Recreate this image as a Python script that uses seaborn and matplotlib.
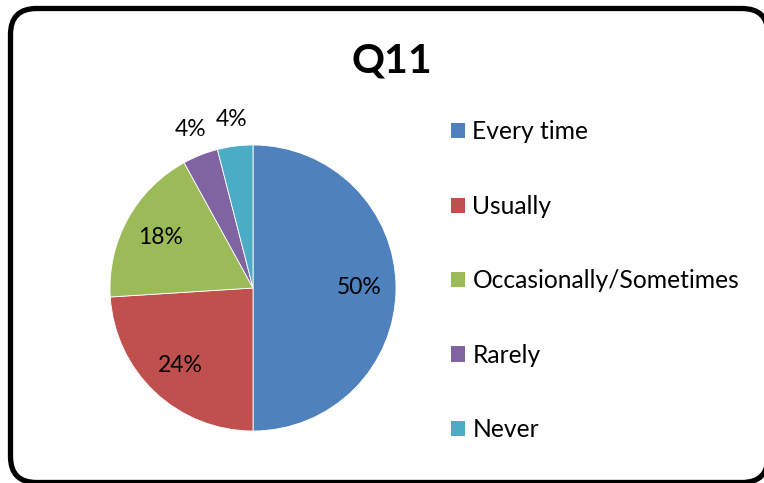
import matplotlib
matplotlib.use("Agg")
import matplotlib.pyplot as plt
import seaborn as sns
from matplotlib.patches import FancyBboxPatch, Patch
import numpy as np

categories = ["Every time", "Usually", "Occasionally/Sometimes", "Rarely", "Never"]
values = [50, 24, 18, 4, 4]
colors = ["#4F81BD", "#C0504D", "#9BBB59", "#8064A2", "#4BACC6"]
title = "Q11"

sns.set_theme(style="white")
plt.rcParams['font.family'] = ['Lato', 'DejaVu Sans']
plt.rcParams['text.color'] = 'black'

W, H = 764, 483
fig = plt.figure(figsize=(W / 100, H / 100), dpi=100)
fig.patch.set_facecolor("white")

# overlay axes in pixel units (origin top-left) for the rounded chart border
bg = fig.add_axes([0, 0, 1, 1], zorder=-1)
bg.set_xlim(0, W)
bg.set_ylim(H, 0)
bg.axis("off")
x0, y_top, x1, y_bot = 10.5, 8.5, 768, 482.5
border = FancyBboxPatch((x0, y_top), x1 - x0, y_bot - y_top,
                        boxstyle="round,pad=0,rounding_size=26",
                        facecolor="white", edgecolor="black", linewidth=3.8, clip_on=False)
bg.add_patch(border)

cx, cy, r = 253, 288, 143
ax = fig.add_axes([(cx - r) / W, (H - cy - r) / H, 2 * r / W, 2 * r / H])
palette = sns.color_palette(colors)
wedges, texts, autotexts = ax.pie(values, colors=palette, startangle=90, counterclock=False,
                                  autopct=lambda p: f"{p:.0f}%", pctdistance=0.74,
                                  radius=1, wedgeprops=dict(edgecolor="white", linewidth=0.6),
                                  textprops=dict(fontsize=16.5, color="black"))
total = sum(values)
for w, t, v in zip(wedges, autotexts, values):
    if v / total < 0.1:
        ang = np.deg2rad((w.theta1 + w.theta2) / 2)
        t.set_position((1.19 * np.cos(ang), 1.19 * np.sin(ang)))
    t.set_clip_on(False)
ax.set_xlim(-1, 1)
ax.set_ylim(-1, 1)
ax.set_aspect("auto")
ax.axis("off")

fig.text(392 / W, 1 - 61 / H, title, ha="center", va="center", fontsize=29.5,
         fontweight="bold", color="black")

handles = [Patch(facecolor=c, edgecolor="none") for c in palette]
leg = fig.legend(handles, categories, loc="upper left", bbox_to_anchor=(451 / W, 1 - 120.5 / H),
                 frameon=False, fontsize=17.7, labelspacing=2.09, handlelength=0.58,
                 handleheight=0.58, handletextpad=0.29, borderaxespad=0, borderpad=0,
                 labelcolor="black")

fig.savefig("out.png", dpi=100, facecolor="white")
